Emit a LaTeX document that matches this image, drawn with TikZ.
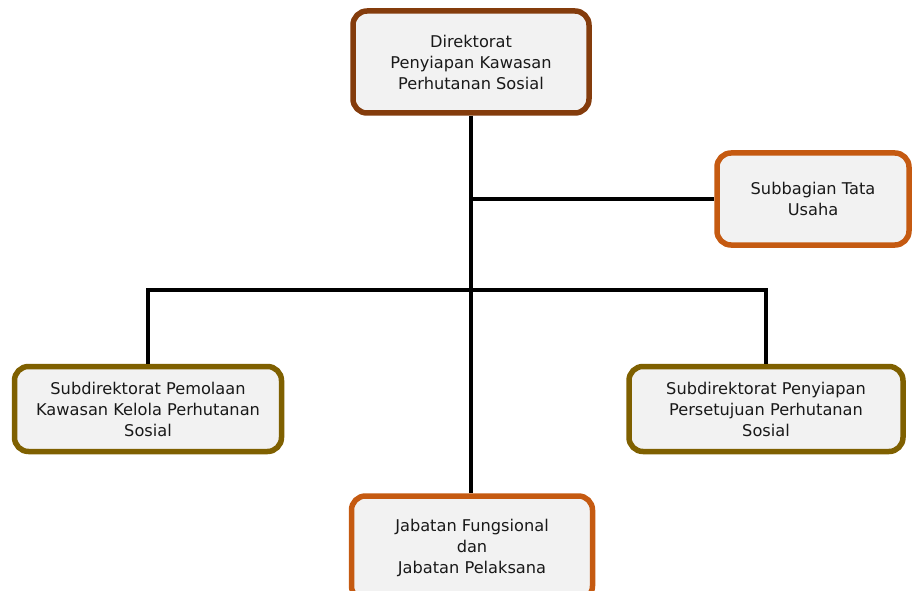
\documentclass[tikz,border=0pt]{standalone}
\usepackage{fontspec}
\setmainfont{DejaVu Sans}
\usepackage{tikz}
\usetikzlibrary{positioning}
\definecolor{dirbrown}{RGB}{132,60,12}
\definecolor{unitorange}{RGB}{197,90,17}
\definecolor{subolive}{RGB}{127,96,0}
\definecolor{boxfill}{RGB}{242,242,242}
\tikzstyle{unit} = [rectangle, rounded corners=14pt, 
line width=5.5pt, 
fill=boxfill, 
align=center, 
inner sep=0pt, 
text=black!90, 
font=\fontsize{16.2}{21}\selectfont]
\tikzstyle{head} = [unit, draw=dirbrown, 
minimum width=236pt, 
minimum height=102pt]
\tikzstyle{staff} = [unit, draw=unitorange]
\tikzstyle{subdir} = [unit, draw=subolive, 
minimum width=267pt, 
minimum height=85pt]
\tikzstyle{link} = [line width=4pt, black]

\begin{document}
\begin{tikzpicture}[x=1pt, y=-1pt]
        \useasboundingbox (0,0) rectangle (913,591);

        \node (dir) [head] at (471,62) 
        {Direktorat\\Penyiapan Kawasan\\Perhutanan Sosial};
        \node (tu) [staff, minimum width=192pt, minimum height=92pt] at (813,199) 
        {Subbagian Tata\\Usaha};
        \node (pkps) [subdir] at (148,409) 
        {Subdirektorat Pemolaan\\Kawasan Kelola Perhutanan\\Sosial};
        \node (ppps) [subdir, minimum width=274pt] at (766,409) 
        {Subdirektorat Penyiapan\\Persetujuan Perhutanan\\Sosial};
        \node (jf) [staff, minimum width=241pt, minimum height=104pt] at (472,548) 
        {Jabatan Fungsional\\dan\\Jabatan Pelaksana};

        \coordinate (tujoin) at (dir.south |- tu.west);
        \coordinate (busL) at (pkps.north |- 0,290);
        \coordinate (busR) at (ppps.north |- 0,290);

        \draw [link] (dir.south) -- (dir.south |- jf.north);
        \draw [link] (tujoin) -- (tu.west);
        \draw [link] (pkps.north) -- (busL) -- (busR) -- (ppps.north);

\end{tikzpicture}
\end{document}
